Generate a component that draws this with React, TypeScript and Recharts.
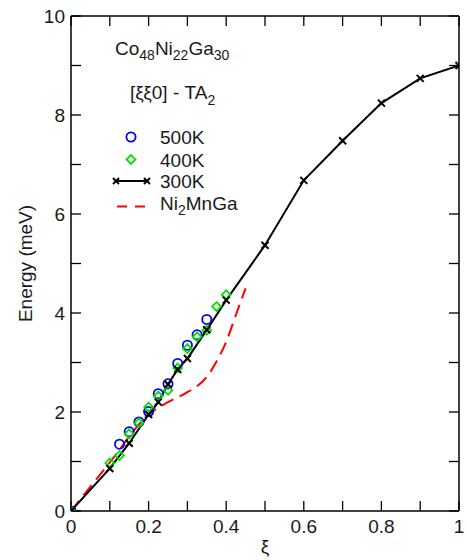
import React from "react";
import {
  ComposedChart,
  Line,
  Scatter,
  XAxis,
  YAxis,
  Legend,
} from "recharts";

// TA2 branch along [xi xi 0], energies in meV
const xi500 = [0, 0.125, 0.15, 0.175, 0.2, 0.225, 0.25, 0.275, 0.3, 0.325, 0.35];
const e500 = [0, 1.35, 1.6, 1.8, 2.01, 2.37, 2.57, 2.98, 3.35, 3.56, 3.87];

const xi400 = [0, 0.1, 0.125, 0.15, 0.175, 0.2, 0.225, 0.25, 0.275, 0.3, 0.325, 0.35, 0.375, 0.4];
const e400 = [0, 0.97, 1.12, 1.56, 1.78, 2.1, 2.32, 2.44, 2.89, 3.28, 3.52, 3.65, 4.13, 4.37];

const xi300 = [0, 0.1, 0.15, 0.2, 0.225, 0.25, 0.275, 0.3, 0.35, 0.4, 0.5, 0.6, 0.7, 0.8, 0.9, 1.0];
const e300 = [0, 0.86, 1.37, 1.95, 2.2, 2.56, 2.86, 3.08, 3.66, 4.26, 5.37, 6.68, 7.48, 8.24, 8.74, 9.0];

// reference curve for Ni2MnGa
const xiRef = [0, 0.1, 0.2, 0.25, 0.3, 0.35, 0.375, 0.4, 0.425, 0.45];
const eRef = [0, 0.98, 1.95, 2.2, 2.4, 2.71, 3.02, 3.42, 3.96, 4.5];

const xTicks = [0, 0.1, 0.2, 0.3, 0.4, 0.5, 0.6, 0.7, 0.8, 0.9, 1];
const xLabels = ["0", "", "0.2", "", "0.4", "", "0.6", "", "0.8", "", "1"];
const yTicks = [0, 1, 2, 3, 4, 5, 6, 7, 8, 9, 10];
const yLabels = ["0", "", "2", "", "4", "", "6", "", "8", "", "10"];

const zip = (xs: number[], ys: number[]) => xs.map((x, i) => ({ x, y: ys[i] }));

const d500 = zip(xi500, e500);
const d400 = zip(xi400, e400);
const d300 = zip(xi300, e300);
const dRef = zip(xiRef, eRef);

const FONT = "'Liberation Sans', Arial, Helvetica, sans-serif";
const TXT = "#1a1a1a";
const BLUE = "#0000f0";
const GREEN = "#00e000";
const RED = "#ff0000";
const TICK = 10;

const labelFor = (ticks: number[], labels: string[], v: number) => {
  const i = ticks.findIndex((t) => Math.abs(t - v) < 1e-6);
  return i >= 0 ? labels[i] : "";
};

// ticks point into the plot on all four sides
const BottomTick = (p: any) => (
  <g>
    <line x1={p.x} y1={p.y} x2={p.x} y2={p.y - TICK} stroke="#000" strokeWidth={1.3} />
    <text x={p.x} y={p.y + 21.5} textAnchor="middle" fontSize={19} fontFamily={FONT} fill={TXT}>
      {labelFor(xTicks, xLabels, p.payload.value)}
    </text>
  </g>
);

const TopTick = (p: any) => (
  <line x1={p.x} y1={p.y} x2={p.x} y2={p.y + TICK} stroke="#000" strokeWidth={1.3} />
);

const LeftTick = (p: any) => (
  <g>
    <line x1={p.x} y1={p.y} x2={p.x + TICK} y2={p.y} stroke="#000" strokeWidth={1.3} />
    <text x={p.x - 6} y={p.y + 6.8} textAnchor="end" fontSize={19} fontFamily={FONT} fill={TXT}>
      {labelFor(yTicks, yLabels, p.payload.value)}
    </text>
  </g>
);

const RightTick = (p: any) => (
  <line x1={p.x} y1={p.y} x2={p.x - TICK} y2={p.y} stroke="#000" strokeWidth={1.3} />
);

const Cross = ({ cx, cy, r = 3.5, k }: { cx: number; cy: number; r?: number; k?: string }) => (
  <g key={k}>
    <line x1={cx - r} y1={cy - r} x2={cx + r} y2={cy + r} stroke="#000" strokeWidth={2} />
    <line x1={cx - r} y1={cy + r} x2={cx + r} y2={cy - r} stroke="#000" strokeWidth={2} />
  </g>
);

const Ring = (p: any) => (
  <circle cx={p.cx} cy={p.cy} r={4.6} fill="none" stroke={BLUE} strokeWidth={1.8} />
);

const Diamond = (p: any) => {
  const s = 4.4;
  return (
    <path
      d={`M${p.cx},${p.cy - s}L${p.cx + s},${p.cy}L${p.cx},${p.cy + s}L${p.cx - s},${p.cy}Z`}
      fill="none"
      stroke={GREEN}
      strokeWidth={1.8}
    />
  );
};

const XLabel = (props: any) => {
  const vb = props.viewBox;
  return (
    <text x={vb.x + vb.width / 2} y={vb.y + 42} textAnchor="middle" fontSize={19} fontFamily={FONT} fill={TXT}>
      ξ
    </text>
  );
};

const YLabel = (props: any) => {
  const vb = props.viewBox;
  const cx = vb.x + vb.width - 39;
  const cy = vb.y + vb.height / 2;
  return (
    <text
      x={cx}
      y={cy}
      transform={`rotate(-90 ${cx} ${cy})`}
      textAnchor="middle"
      fontSize={19}
      fontFamily={FONT}
      fill={TXT}
    >
      Energy (meV)
    </text>
  );
};

// compound name, branch and series key drawn inside the plot frame
const Annotations = () => (
  <svg width={260} height={230} style={{ display: "block" }}>
    <g fontFamily={FONT} fill={TXT} fontSize={19}>
      <text x={115} y={54.5}>
        Co<tspan fontSize={14} dy={5.5}>48</tspan>
        <tspan dy={-5.5}>Ni</tspan>
        <tspan fontSize={14} dy={5.5}>22</tspan>
        <tspan dy={-5.5}>Ga</tspan>
        <tspan fontSize={14} dy={5.5}>30</tspan>
      </text>
      <text x={130} y={99}>
        [ξξ0] - TA<tspan fontSize={14} dy={5.5}>2</tspan>
      </text>
      <text x={160} y={144}>500K</text>
      <text x={160} y={166.5}>400K</text>
      <text x={160} y={188}>300K</text>
      <text x={160} y={209.5}>
        Ni<tspan fontSize={14} dy={5.5}>2</tspan>
        <tspan dy={-5.5}>MnGa</tspan>
      </text>
    </g>
    <Ring cx={131} cy={137} />
    <Diamond cx={131} cy={159.5} />
    <line x1={116} y1={181} x2={147} y2={181} stroke="#000" strokeWidth={2} />
    <Cross cx={116} cy={181} r={3} />
    <Cross cx={147} cy={181} r={3} />
    <line x1={117} y1={206.5} x2={147} y2={206.5} stroke={RED} strokeWidth={2} strokeDasharray="10 8" />
  </svg>
);

export default function App() {
  return (
    <div style={{ position: "absolute", left: 0, top: 0, background: "#fff" }}>
      <ComposedChart
        width={466}
        height={560}
        margin={{ top: 15, right: 6, bottom: 48, left: 70 }}
      >
        <XAxis
          xAxisId="b"
          dataKey="x"
          type="number"
          orientation="bottom"
          domain={[0, 1]}
          ticks={xTicks}
          interval={0}
          height={1}
          tickSize={0}
          tickMargin={0}
          tick={BottomTick}
          axisLine={{ stroke: "#000", strokeWidth: 1.5 }}
          allowDataOverflow
          label={<XLabel />}
        />
        <XAxis
          xAxisId="t"
          dataKey="x"
          type="number"
          orientation="top"
          domain={[0, 1]}
          ticks={xTicks}
          interval={0}
          height={1}
          tickSize={0}
          tickMargin={0}
          tick={TopTick}
          axisLine={{ stroke: "#000", strokeWidth: 1.5 }}
          allowDataOverflow
        />
        <YAxis
          yAxisId="l"
          type="number"
          orientation="left"
          domain={[0, 10]}
          ticks={yTicks}
          interval={0}
          width={1}
          tickSize={0}
          tickMargin={0}
          tick={LeftTick}
          axisLine={{ stroke: "#000", strokeWidth: 1.5 }}
          allowDataOverflow
          label={<YLabel />}
        />
        <YAxis
          yAxisId="r"
          type="number"
          orientation="right"
          domain={[0, 10]}
          ticks={yTicks}
          interval={0}
          width={1}
          tickSize={0}
          tickMargin={0}
          tick={RightTick}
          axisLine={{ stroke: "#000", strokeWidth: 1.5 }}
          allowDataOverflow
        />
        <Legend
          layout="vertical"
          align="center"
          verticalAlign="middle"
          content={() => <Annotations />}
          wrapperStyle={{ left: 0, top: 0, width: 260, height: 230, pointerEvents: "none" }}
        />
        <Line
          xAxisId="b"
          yAxisId="l"
          name="Ni2MnGa"
          data={dRef}
          dataKey="y"
          type="monotone"
          stroke={RED}
          strokeWidth={2}
          strokeDasharray="13 7"
          dot={false}
          isAnimationActive={false}
        />
        <Scatter
          xAxisId="b"
          yAxisId="l"
          name="500K"
          data={d500}
          dataKey="y"
          shape={Ring}
          isAnimationActive={false}
        />
        <Scatter
          xAxisId="b"
          yAxisId="l"
          name="400K"
          data={d400}
          dataKey="y"
          shape={Diamond}
          isAnimationActive={false}
        />
        <Line
          xAxisId="b"
          yAxisId="l"
          name="300K"
          data={d300}
          dataKey="y"
          type="linear"
          stroke="#000"
          strokeWidth={2}
          dot={(p: any) => <Cross key={`c-${p.index}`} k={`c-${p.index}`} cx={p.cx} cy={p.cy} />}
          isAnimationActive={false}
        />
      </ComposedChart>
    </div>
  );
}
